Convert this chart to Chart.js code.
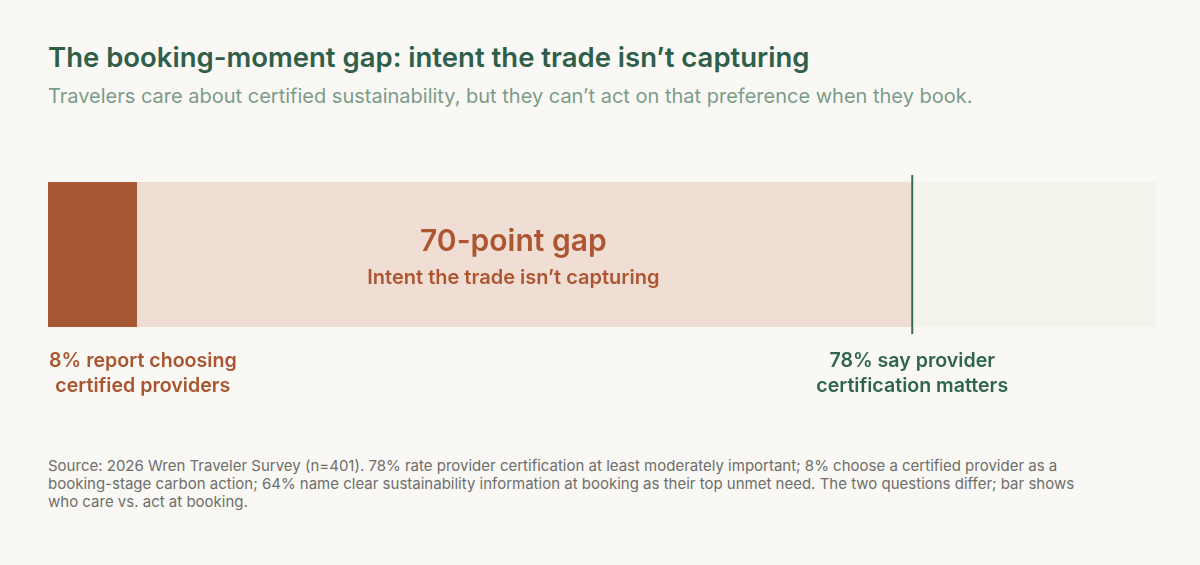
<!DOCTYPE html>
<html>
<head>
<meta charset="utf-8">
<script src="https://cdn.jsdelivr.net/npm/chart.js@4.4.1/dist/chart.umd.min.js"></script>
<style>
  html, body { margin:0; padding:0; background:#f9f8f4; }
  body { width:1200px; height:565px; position:relative; overflow:hidden; font-family: Inter, "Noto Sans", sans-serif; }
  .title { position:absolute; left:48px; top:41px; font-size:27.5px; line-height:32px; font-weight:600; color:#2f5f4b; white-space:nowrap; }
  .subtitle { position:absolute; left:48px; top:84px; font-size:20px; line-height:24px; font-weight:400; color:#7b9c8a; white-space:nowrap; }
  .source { position:absolute; left:48px; top:457px; width:1130px; font-size:15px; line-height:18px; color:#6e6e6b; white-space:nowrap; }
  #wrap { position:absolute; left:0; top:140px; width:1200px; height:290px; }
</style>
</head>
<body>
<div class="title">The booking-moment gap: intent the trade isn’t capturing</div>
<div class="subtitle">Travelers care about certified sustainability, but they can’t act on that preference when they book.</div>
<div id="wrap"><canvas id="c"></canvas></div>
<div class="source">Source: 2026 Wren Traveler Survey (n=401). 78% rate provider certification at least moderately important; 8% choose a certified provider as a<br>booking-stage carbon action; 64% name clear sustainability information at booking as their top unmet need. The two questions differ; bar shows<br>who care vs. act at booking.</div>
<script>
const categories = ["Travelers"];
const segmentNames = ["Choose certified providers", "Gap", "Remainder"];
const actValue = [8];
const careValue = [78];
const gapValue = [careValue[0] - actValue[0]];
const restValue = [100 - careValue[0]];
const gapTitle = "70-point gap";
const gapSubtitle = "Intent the trade isn’t capturing";
const actLabel = ["8% report choosing", "certified providers"];
const careLabel = ["78% say provider", "certification matters"];

const annot = {
  id: 'annot',
  afterDatasetsDraw(chart) {
    const {ctx, chartArea, scales} = chart;
    const x = scales.x;
    const top = chartArea.top, bottom = chartArea.bottom;
    const xc = x.getPixelForValue(careValue[0]);
    ctx.save();
    ctx.strokeStyle = '#3d6b56';
    ctx.lineWidth = 2;
    ctx.beginPath();
    ctx.moveTo(xc, top - 7);
    ctx.lineTo(xc, bottom + 7);
    ctx.stroke();
    const gx = x.getPixelForValue(42);
    ctx.fillStyle = '#ad5632';
    ctx.textAlign = 'center';
    ctx.textBaseline = 'alphabetic';
    ctx.font = '600 30px Inter';
    ctx.fillText(gapTitle, gx, 251 - 140);
    ctx.font = '600 20px Inter';
    ctx.fillText(gapSubtitle, gx, 284 - 140);
    ctx.font = '600 19.6px Inter';
    const w = Math.max(...actLabel.map(t => ctx.measureText(t).width));
    let ax = x.getPixelForValue(actValue[0]);
    ax = Math.max(ax, chartArea.left + w / 2 + 1);
    ctx.fillStyle = '#a9552f';
    actLabel.forEach((t, i) => ctx.fillText(t, ax, 367 - 140 + i * 24.5));
    ctx.fillStyle = '#2f6550';
    careLabel.forEach((t, i) => ctx.fillText(t, xc, 367 - 140 + i * 24.5));
    ctx.restore();
  }
};

new Chart(document.getElementById('c'), {
  type: 'bar',
  data: {
    labels: categories,
    datasets: [
      { label: segmentNames[0], data: actValue, backgroundColor: '#a65734', borderWidth: 0 },
      { label: segmentNames[1], data: gapValue, backgroundColor: '#f0ddd3', borderWidth: 0 },
      { label: segmentNames[2], data: restValue, backgroundColor: '#f3f2eb', borderWidth: 0 }
    ]
  },
  options: {
    indexAxis: 'y',
    responsive: true,
    maintainAspectRatio: false,
    animation: false,
    layout: { padding: { left: 48, right: 44, top: 42, bottom: 103 } },
    scales: {
      x: { stacked: true, min: 0, max: 100, display: false },
      y: { stacked: true, display: false }
    },
    datasets: { bar: { barPercentage: 1, categoryPercentage: 1 } },
    plugins: { legend: { display: false }, tooltip: { enabled: false }, title: { display: false } }
  },
  plugins: [annot]
});
</script>
</body>
</html>
